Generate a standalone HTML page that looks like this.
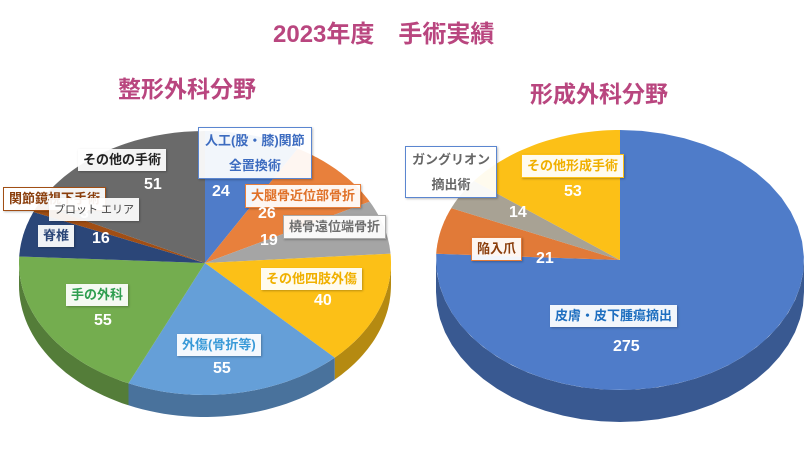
<!DOCTYPE html>
<html><head><meta charset="utf-8"><style>
body{margin:0;background:#fff;}
#wrap{position:relative;width:810px;height:454px;overflow:hidden;font-family:"Liberation Sans","Noto Sans CJK JP",sans-serif;}
.t{position:absolute;font-weight:bold;color:#b9467f;white-space:nowrap}
.lb{position:absolute;background:rgba(255,255,255,0.93);font-weight:bold;font-size:13px;padding:2px 5px;white-space:nowrap;box-shadow:1px 1px 2px rgba(0,0,0,0.25);line-height:18px;text-align:center}
.lb.two{line-height:25px;padding:0 6px}
.v{position:absolute;color:#fff;font-weight:bold;font-size:16px;white-space:nowrap}
</style></head><body>
<div id="wrap">
<div class="t" style="left:273px;top:14px;font-size:24px">2023年度　手術実績</div>
<div class="t" style="left:118px;top:70px;font-size:23px">整形外科分野</div>
<div class="t" style="left:530px;top:75px;font-size:23px">形成外科分野</div>
<svg id="svg" width="810" height="454" style="position:absolute;left:0;top:0"></svg>
<div id="labels"></div>
</div>
<script>
const leftCategories=["人工(股・膝)関節全置換術","大腿骨近位部骨折","橈骨遠位端骨折","その他四肢外傷","外傷(骨折等)","手の外科","脊椎","関節鏡視下手術","その他の手術"];
const leftValues=[24,26,19,40,55,55,16,3,51];
const leftColors=["#4f7cc9","#e8803c","#a5a5a5","#fcc017","#659fd8","#74ad4f","#2b4678","#a14e14","#6a6a6a"];
const rightCategories=["皮膚・皮下腫瘍摘出","陥入爪","ガングリオン摘出術","その他形成手術"];
const rightValues=[275,21,14,53];
const rightColors=["#4f7cc9","#e17a38","#a8a294","#fcc017"];
const NS="http://www.w3.org/2000/svg";
const svg=document.getElementById('svg');
function shade(hex,f){const n=parseInt(hex.slice(1),16);let r=n>>16,g=(n>>8)&255,b=n&255;return `rgb(${Math.round(r*f)},${Math.round(g*f)},${Math.round(b*f)})`;}
function pt(c,a,dy){return [c.cx+c.rx*Math.sin(a),c.cy-c.ry*Math.cos(a)+(dy||0)];}
function drawPie(c,vals,cols,name){
  const tot=vals.reduce((a,b)=>a+b,0);
  let ang=0;const sl=[];
  vals.forEach((v,i)=>{const a0=ang,a1=ang+v/tot*2*Math.PI;ang=a1;sl.push([a0,a1]);});
  sl.forEach((s,i)=>{
    const lo=Math.max(s[0],Math.PI/2),hi=Math.min(s[1],Math.PI*1.5);
    if(hi<=lo)return;
    let d='';const N=30;
    for(let k=0;k<=N;k++){const a=lo+(hi-lo)*k/N;const p=pt(c,a);d+=(k?'L':'M')+p[0].toFixed(1)+','+p[1].toFixed(1);}
    for(let k=N;k>=0;k--){const a=lo+(hi-lo)*k/N;const p=pt(c,a,c.d);d+='L'+p[0].toFixed(1)+','+p[1].toFixed(1);}
    const e=document.createElementNS(NS,'path');e.setAttribute('d',d+'Z');e.setAttribute('fill',shade(cols[i],0.72));
    
    
    svg.appendChild(e);
  });
  sl.forEach((s,i)=>{
    let d='M'+c.cx+','+c.cy;const N=40;
    for(let k=0;k<=N;k++){const a=s[0]+(s[1]-s[0])*k/N;const p=pt(c,a);d+='L'+p[0].toFixed(1)+','+p[1].toFixed(1);}
    const e=document.createElementNS(NS,'path');e.setAttribute('d',d+'Z');e.setAttribute('fill',cols[i]);
    
    
    svg.appendChild(e);
  });
}
drawPie({cx:205,cy:263,rx:186,ry:132,d:22},leftValues,leftColors,'left-pie');
drawPie({cx:620,cy:260,rx:184,ry:130,d:32},rightValues,rightColors,'right-pie');
const L=document.getElementById('labels');
function lab(html,x,y,color,border,name,cls){const d=document.createElement('div');d.className='lb'+(cls?' '+cls:'');d.innerHTML=html;d.style.left=x+'px';d.style.top=y+'px';d.style.color=color;if(border)d.style.border='1px solid '+border;


L.appendChild(d);}
function val(v,x,y,name){const d=document.createElement('div');d.className='v';d.textContent=v;d.style.left=x+'px';d.style.top=y+'px';


L.appendChild(d);}
lab('人工(股・膝)関節<br>全置換術',198,127,'#3d6cc0','#5b86d0','label-artificial-joint','two');
val(leftValues[0],212,183,'value-artificial-joint');
lab('大腿骨近位部骨折',245,184,'#e0722a','#e8803c','label-femur');
val(leftValues[1],258,205,'value-femur');
lab('橈骨遠位端骨折',283,215,'#707070','#aaa','label-radius');
val(leftValues[2],260,232,'value-radius');
lab('その他四肢外傷',261,268,'#f0b000','','label-other-limb');
val(leftValues[3],314,292,'value-other-limb');
lab('外傷(骨折等)',177,334,'#3a9ad8','','label-trauma');
val(leftValues[4],213,360,'value-trauma');
lab('手の外科',66,284,'#2f9e50','','label-hand');
val(leftValues[5],94,312,'value-hand');
lab('脊椎',38,225,'#2b4678','','label-spine');
val(leftValues[6],92,230,'value-spine');
lab('関節鏡視下手術',3,187,'#8a3e0c','#a14e14','label-arthroscopy');
val(leftValues[7],80,205,'value-arthroscopy');
lab('<span style="font-weight:normal;font-size:11px">プロット エリア</span>',49,198,'#444','','plot-area-tooltip');
lab('その他の手術',78,149,'#222','','label-other-surgery');
val(leftValues[8],144,176,'value-other-surgery');
lab('皮膚・皮下腫瘍摘出',550,305,'#1f6fc0','','label-skin-tumor');
val(rightValues[0],613,338,'value-skin-tumor');
lab('陥入爪',471,237,'#8a3e0c','#e17a38','label-ingrown-nail');
val(rightValues[1],536,250,'value-ingrown-nail');
lab('ガングリオン<br>摘出術',405,146,'#666','#5b86d0','label-ganglion','two');
val(rightValues[2],509,204,'value-ganglion');
lab('その他形成手術',521,154,'#f0b000','#fcc017','label-other-plastic');
val(rightValues[3],564,183,'value-other-plastic');
</script>
</body></html>
